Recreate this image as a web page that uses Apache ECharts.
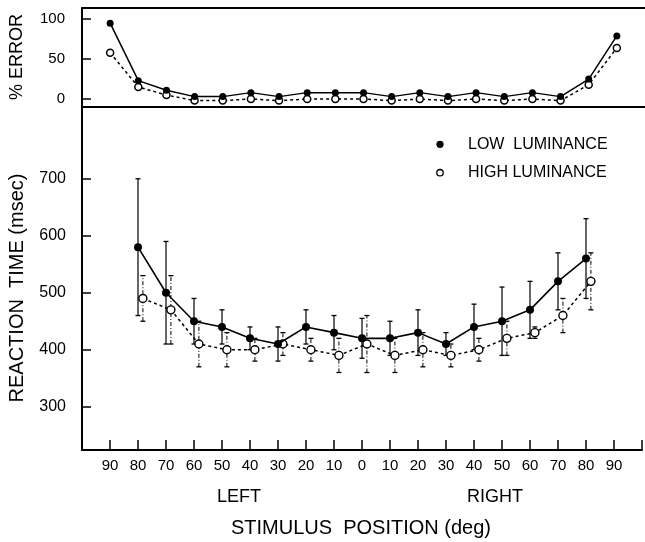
<!DOCTYPE html>
<html>
<head>
<meta charset="utf-8">
<script src="https://cdn.jsdelivr.net/npm/echarts@6/dist/echarts.min.js"></script>
<style>
html,body{margin:0;padding:0;background:#fff;}
#c{width:645px;height:542px;}
</style>
</head>
<body>
<div id="c"></div>
<script>
// Stimulus positions (deg), left 90 ... 0 ... right 90
const positions = ['90','80','70','60','50','40','30','20','10','0','10','20','30','40','50','60','70','80','90'];
// % error
const errLowLum  = [95,23,11,3,3,8,3,8,8,8,3,8,3,8,3,8,3,25,79];
const errHighLum = [58,15,5,-2,-2,0,-2,0,0,0,-2,0,-2,0,-2,0,-2,18,64];
// Reaction time (msec)
const rtLowLum    = [null,580,500,450,440,420,410,440,430,420,420,430,410,440,450,470,520,560,null];
const rtLowLumSd  = [null,120,90,40,30,20,30,30,30,35,30,40,20,40,60,50,50,70,null];
const rtHighLum   = [null,490,470,410,400,400,410,400,390,410,390,400,390,400,420,430,460,520,null];
const rtHighLumSd = [null,40,60,40,30,20,20,20,30,50,30,30,20,20,30,10,30,50,null];
const errTicks = [0,50,100];
const rtTicks = [300,400,500,600,700];

const FONT = '"Liberation Sans", Arial, Helvetica, sans-serif';
const BLACK = '#000';

function pts(arr){ const out=[]; arr.forEach((v,i)=>{ if(v!==null) out.push([i,v]); }); return out; }
function bars(arr, sd){ const out=[]; arr.forEach((v,i)=>{ if(v!==null) out.push([i, v-sd[i], v+sd[i]]); }); return out; }
function errRender(lineWidth, dash){
  return function(params, api){
    const x = api.value(0), lo = api.value(1), hi = api.value(2);
    const p1 = api.coord([x, lo]), p2 = api.coord([x, hi]);
    const w = 2.5;
    const st = {stroke: BLACK, lineWidth: lineWidth, lineDash: dash, fill: null};
    const cs = {stroke: BLACK, lineWidth: 1.3, fill: null};
    return {type:'group', children:[
      {type:'line', shape:{x1:p1[0],y1:p1[1],x2:p2[0],y2:p2[1]}, style: st},
      {type:'line', shape:{x1:p1[0]-w,y1:p1[1],x2:p1[0]+w,y2:p1[1]}, style: cs},
      {type:'line', shape:{x1:p2[0]-w,y1:p2[1],x2:p2[0]+w,y2:p2[1]}, style: cs}
    ]};
  };
}

const chart = echarts.init(document.getElementById('c'), null, {renderer:'canvas'});
const axisLineStyle = {show:true, onZero:false, lineStyle:{color:BLACK, width:2}};
const option = {
  animation: false,
  backgroundColor: '#fff',
  grid: [
    {left: 82, top: 8, width: 570, height: 99},
    {left: 82, top: 107, width: 570, height: 343}
  ],
  xAxis: [
    {gridIndex:0, type:'value', position:'bottom', min:-1, max:19, axisLine:axisLineStyle, axisTick:{show:false}, axisLabel:{show:false}, splitLine:{show:false}},
    {gridIndex:0, type:'value', position:'top', min:-1, max:19, axisLine:axisLineStyle, axisTick:{show:false}, axisLabel:{show:false}, splitLine:{show:false}},
    {gridIndex:1, type:'value', position:'bottom', min:-1, max:19, interval:1,
      axisLine:axisLineStyle,
      axisTick:{show:true, inside:true, length:10, lineStyle:{color:BLACK, width:1.5}},
      axisLabel:{show:true, margin:8, color:BLACK, fontSize:15, fontFamily:FONT,
        formatter: function(v){ const i = Math.round(v); return (i>=0 && i<positions.length && Math.abs(v-i)<1e-6) ? positions[i] : ''; }},
      splitLine:{show:false}},
    {gridIndex:1, type:'value', show:false, min:-1.175, max:18.825}
  ],
  yAxis: [
    {gridIndex:0, type:'value', min:-10, max:114, axisLine:axisLineStyle,
      axisTick:{show:true, inside:true, length:9, customValues: errTicks, lineStyle:{color:BLACK, width:1.5}},
      axisLabel:{show:true, margin:17, color:BLACK, fontSize:15, fontFamily:FONT, customValues: errTicks},
      splitLine:{show:false}},
    {gridIndex:1, type:'value', min:224, max:826, axisLine:axisLineStyle,
      axisTick:{show:true, inside:true, length:9, customValues: rtTicks, lineStyle:{color:BLACK, width:1.5}},
      axisLabel:{show:true, margin:16, color:BLACK, fontSize:16, fontFamily:FONT, customValues: rtTicks},
      splitLine:{show:false}}
  ],
  series: [
    {name:'HIGH LUMINANCE', type:'line', xAxisIndex:0, yAxisIndex:0, data: pts(errHighLum),
      symbol:'circle', symbolSize:7, showAllSymbol:true,
      itemStyle:{color:'#fff', borderColor:BLACK, borderWidth:1.5},
      lineStyle:{color:BLACK, width:1.5, type:[3,3]}, z:3},
    {name:'LOW LUMINANCE', type:'line', xAxisIndex:0, yAxisIndex:0, data: pts(errLowLum),
      symbol:'circle', symbolSize:7, showAllSymbol:true,
      itemStyle:{color:BLACK, borderColor:BLACK, borderWidth:0},
      lineStyle:{color:BLACK, width:1.5}, z:4},
    {name:'HIGH LUMINANCE SD', type:'custom', xAxisIndex:3, yAxisIndex:1, data: bars(rtHighLum, rtHighLumSd),
      renderItem: errRender(1, [4,2,1,2]), encode:{x:0, y:[1,2]}, z:2},
    {name:'LOW LUMINANCE SD', type:'custom', xAxisIndex:2, yAxisIndex:1, data: bars(rtLowLum, rtLowLumSd),
      renderItem: errRender(1.2, null), encode:{x:0, y:[1,2]}, z:2},
    {name:'HIGH LUMINANCE', type:'line', xAxisIndex:3, yAxisIndex:1, data: pts(rtHighLum),
      symbol:'circle', symbolSize:8, showAllSymbol:true,
      itemStyle:{color:'#fff', borderColor:BLACK, borderWidth:1.4},
      lineStyle:{color:BLACK, width:1.5, type:[3,3]}, z:3},
    {name:'LOW LUMINANCE', type:'line', xAxisIndex:2, yAxisIndex:1, data: pts(rtLowLum),
      symbol:'circle', symbolSize:8, showAllSymbol:true,
      itemStyle:{color:BLACK},
      lineStyle:{color:BLACK, width:1.6}, z:4}
  ],
  graphic: [
    {type:'text', x:17, y:57, rotation:Math.PI/2, style:{text:'% ERROR', font:'18px '+FONT, fill:BLACK, align:'center', verticalAlign:'middle', textAlign:'center', textVerticalAlign:'middle'}},
    {type:'text', x:17, y:288, rotation:Math.PI/2, style:{text:'REACTION  TIME (msec)', font:'20px '+FONT, fill:BLACK, align:'center', verticalAlign:'middle', textAlign:'center', textVerticalAlign:'middle'}},
    {type:'text', x:239, y:497, style:{text:'LEFT', font:'18px '+FONT, fill:BLACK, align:'center', verticalAlign:'middle', textAlign:'center', textVerticalAlign:'middle'}},
    {type:'text', x:495, y:497, style:{text:'RIGHT', font:'18px '+FONT, fill:BLACK, align:'center', verticalAlign:'middle', textAlign:'center', textVerticalAlign:'middle'}},
    {type:'text', x:361, y:528, style:{text:'STIMULUS  POSITION (deg)', font:'20px '+FONT, fill:BLACK, align:'center', verticalAlign:'middle', textAlign:'center', textVerticalAlign:'middle'}},
    {type:'circle', shape:{cx:440, cy:144.3, r:3.6}, style:{fill:BLACK}},
    {type:'text', x:468, y:144.5, style:{text:'LOW  LUMINANCE', font:'16px '+FONT, fill:BLACK, align:'left', verticalAlign:'middle', textAlign:'left', textVerticalAlign:'middle'}},
    {type:'circle', shape:{cx:440, cy:172.7, r:3.2}, style:{fill:'#fff', stroke:BLACK, lineWidth:1.3}},
    {type:'text', x:468, y:172.7, style:{text:'HIGH LUMINANCE', font:'16px '+FONT, fill:BLACK, align:'left', verticalAlign:'middle', textAlign:'left', textVerticalAlign:'middle'}}
  ]
};
chart.setOption(option);
</script>
</body>
</html>
